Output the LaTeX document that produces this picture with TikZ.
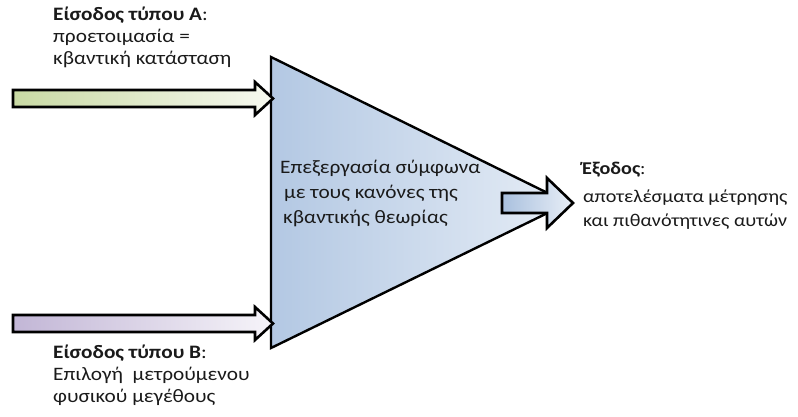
\documentclass[tikz,border=0pt]{standalone}
\usepackage{fontspec}
\setmainfont{Carlito}[FakeStretch=1.12]
\definecolor{triL}{HTML}{B3C8E3}
\definecolor{triR}{HTML}{E6EDF6}
\definecolor{grnL}{HTML}{C9DAA4}
\definecolor{grnR}{HTML}{F7F9F0}
\definecolor{purL}{HTML}{C2B6D6}
\definecolor{purR}{HTML}{F6F4F9}
\definecolor{outL}{HTML}{A9C0DE}
\definecolor{outR}{HTML}{E9EFF7}
\definecolor{txt}{HTML}{1A1A1A}
\begin{document}
\begin{tikzpicture}[x=1pt,y=-1pt,
  blockarrow/.style={draw=black,line width=2.6pt,line join=miter},
  lbl/.style={anchor=north west,align=left,inner sep=0pt,text=txt,font=\fontsize{19}{22}\selectfont}]
\useasboundingbox (0,0) rectangle (798,416);
% triangle
\coordinate (t1) at (271,57);
\coordinate (t2) at (271,348);
\coordinate (tip) at (568,203);
\draw[line width=2.4pt,line join=miter,left color=triL,right color=triR] (t1) -- (tip) -- (t2) -- cycle;
% input A
\draw[blockarrow,left color=grnL,right color=grnR] (13,90) -- (255,90) -- (255,82) -- (273,98.5) -- (255,115) -- (255,107) -- (13,107) -- cycle;
% input B
\draw[blockarrow,left color=purL,right color=purR] (13,315) -- (255,315) -- (255,307) -- (273,323.5) -- (255,340) -- (255,332) -- (13,332) -- cycle;
% output
\draw[blockarrow,left color=outL,right color=outR] (502,193) -- (547,193) -- (547,178) -- (573,203) -- (547,228) -- (547,213) -- (502,213) -- cycle;
% labels
\node[lbl] (la) at (53,7) {\textbf{Είσοδος τύπου Α}:\\προετοιμασία =\\κβαντική κατάσταση};
\node[lbl] (lb) at (53,345) {\textbf{Είσοδος τύπου Β}:\\Επιλογή\ \ μετρούμενου\\φυσικού μεγέθους};
\node[lbl,font=\fontsize{19}{25}\selectfont] (lc) at (280,160) {Επεξεργασία σύμφωνα\\\hspace*{4pt}με τους κανόνες της\\\hspace*{3pt}κβαντικής θεωρίας};
\node[lbl,font=\fontsize{18}{24}\selectfont] (lo) at (582,162) {\textbf{Έξοδος}:\\[4pt]\hspace*{1pt}αποτελέσματα μέτρησης\\\hspace*{1pt}και πιθανότητινες αυτών};
\end{tikzpicture}
\end{document}
